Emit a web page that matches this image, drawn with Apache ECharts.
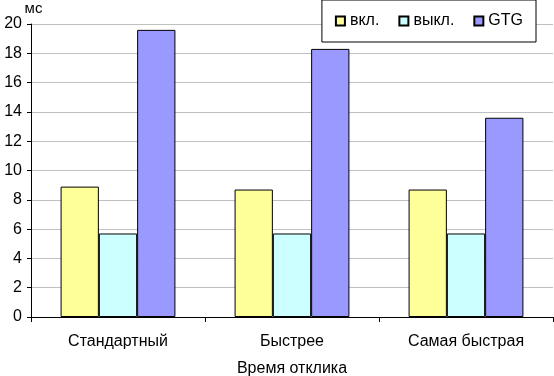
<!DOCTYPE html>
<html>
<head>
<meta charset="utf-8">
<script src="https://cdn.jsdelivr.net/npm/echarts@6/dist/echarts.min.js"></script>
<style>
html,body{margin:0;padding:0;background:#fff;}
#main{width:554px;height:376px;}
</style>
</head>
<body>
<div id="main"></div>
<script>
// категории и значения (мс)
const categories = ["Стандартный", "Быстрее", "Самая быстрая"];
const seriesNames = ["вкл.", "выкл.", "GTG"];
const valOn = [8.9, 8.7, 8.7];
const valOff = [5.7, 5.7, 5.7];
const valGtg = [19.6, 18.3, 13.6];
const colors = ["#FFFF99", "#CCFFFF", "#9999FF"];

let chart = echarts.init(document.getElementById("main"));
let font = "Liberation Sans, Arial, sans-serif";
let data = [valOn, valOff, valGtg];
let series = [];
for (let i in seriesNames) {
    series.push({
        name: seriesNames[i],
        type: "bar",
        data: data[i],
        barGap: "0%",
        barCategoryGap: "34%",
        itemStyle: {color: colors[i], borderColor: "#000", borderWidth: 1}
    });
}
let option = {
    animation: false,
    textStyle: {fontFamily: font},
    grid: {left: 31, right: 1, top: 24, bottom: 59, outerBoundsMode: "none", containLabel: false},
    legend: {
        data: seriesNames,
        right: 18,
        top: 0,
        padding: [13, 13, 13, 13],
        itemGap: 19,
        itemWidth: 9,
        itemHeight: 9,
        borderColor: "#000",
        borderWidth: 1,
        backgroundColor: "#fff",
        icon: "rect",
        textStyle: {fontFamily: font, fontSize: 16, color: "#000"}
    },
    xAxis: {
        type: "category",
        data: categories,
        name: "Время отклика",
        nameLocation: "middle",
        nameGap: 44,
        nameTextStyle: {fontFamily: font, fontSize: 16, color: "#000"},
        axisLine: {lineStyle: {color: "#000", width: 1}},
        axisTick: {show: true, length: 5, lineStyle: {color: "#000"}},
        axisLabel: {fontFamily: font, fontSize: 16, color: "#000", margin: 17}
    },
    yAxis: {
        type: "value",
        min: 0,
        max: 20,
        interval: 2,
        name: "мс",
        nameLocation: "end",
        nameGap: 6,
        nameTextStyle: {fontFamily: font, fontSize: 15, color: "#000", align: "center", padding: [0, 0, 0, 5]},
        axisLine: {show: true, lineStyle: {color: "#000", width: 1}},
        axisTick: {show: true, length: 4, lineStyle: {color: "#000"}},
        axisLabel: {fontFamily: font, fontSize: 16, color: "#000", margin: 9},
        splitLine: {lineStyle: {color: "#C0C0C0", width: 1}}
    },
    series: series
};
chart.setOption(option);
</script>
</body>
</html>
